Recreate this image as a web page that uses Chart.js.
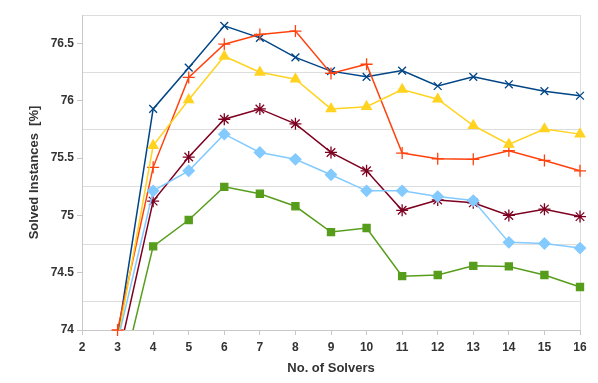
<!DOCTYPE html>
<html lang="en">
<head>
    <meta charset="UTF-8">
    <title>Solved Instances</title>
    <style>
        html, body { margin: 0; padding: 0; background: #fff; }
        #wrap { width: 598px; height: 383px; }
    </style>
</head>
<body>
    <div id="wrap"><canvas id="myChart" width="598" height="383"></canvas></div>

    <script src="https://cdn.jsdelivr.net/npm/chart.js@4.4.0/dist/chart.umd.min.js"></script>
    <script>
        // x values (number of solvers)
        var solvers = [3, 4, 5, 6, 7, 8, 9, 10, 11, 12, 13, 14, 15, 16];

        // one array per line
        var blueSeries   = [73.94, 75.93, 76.29, 76.655, 76.55, 76.38, 76.26, 76.21, 76.265, 76.13, 76.21, 76.145, 76.085, 76.045];
        var orangeSeries = [74.0, 75.42, 76.205, 76.495, 76.58, 76.61, 76.24, 76.32, 75.545, 75.495, 75.49, 75.565, 75.48, 75.39];
        var yellowSeries = [73.9, 75.61, 76.01, 76.39, 76.25, 76.19, 75.93, 75.95, 76.1, 76.015, 75.785, 75.62, 75.755, 75.71];
        var redSeries    = [73.73, 75.125, 75.51, 75.84, 75.93, 75.8, 75.55, 75.39, 75.045, 75.135, 75.11, 75.0, 75.055, 74.99];
        var lightSeries  = [73.9, 75.215, 75.39, 75.71, 75.55, 75.49, 75.355, 75.215, 75.215, 75.165, 75.13, 74.765, 74.755, 74.715];
        var greenSeries  = [73.44, 74.73, 74.96, 75.25, 75.19, 75.08, 74.855, 74.89, 74.47, 74.48, 74.56, 74.555, 74.48, 74.375];

        // y labels every 0.5, grid lines on the quarters in between
        var yMin = 74, yMax = 76.75, yStep = 0.25;

        function points(values) {
            return solvers.map(function (s, i) { return { x: s, y: values[i] }; });
        }

        // markers may spill over the right edge, but nothing below the x axis
        function line(values, color, style, radius, bottomClip) {
            return {
                data: points(values),
                borderColor: color,
                backgroundColor: color,
                borderWidth: 1.5,
                pointStyle: style,
                pointRadius: radius,
                pointBorderColor: color,
                pointBackgroundColor: color,
                pointBorderWidth: 1.3,
                tension: 0,
                clip: { left: 10, top: 10, right: 10, bottom: bottomClip || 0 }
            };
        }

        var textColor = '#333';
        var gridColor = '#dddddd';
        var axisFont = { family: 'Liberation Sans, Arial, sans-serif', size: 12, weight: 'bold' };
        var titleFont = { family: 'Liberation Sans, Arial, sans-serif', size: 13, weight: 'bold' };

        var ctx = document.getElementById('myChart').getContext('2d');
        new Chart(ctx, {
            type: 'line',
            data: {
                datasets: [
                    line(greenSeries, '#579d1c', 'rect', 5),
                    line(lightSeries, '#83caff', 'rectRot', 5.5),
                    line(redSeries, '#7e0021', 'star', 6),
                    line(yellowSeries, '#ffd320', 'triangle', 5.5),
                    line(orangeSeries, '#ff420e', 'cross', 6, 7),
                    line(blueSeries, '#004586', 'crossRot', 5.5)
                ]
            },
            options: {
                responsive: false,
                animation: false,
                layout: { padding: { left: 0, top: 15, right: 18, bottom: 0 } },
                plugins: {
                    legend: { display: false },
                    tooltip: { enabled: false }
                },
                scales: {
                    x: {
                        type: 'linear',
                        min: 2,
                        max: 16,
                        ticks: { stepSize: 1, color: textColor, font: axisFont, padding: 5 },
                        grid: {
                            color: function (c) { return c.tick && c.tick.value === 16 ? gridColor : 'transparent'; },
                            tickColor: '#c8c8c8',
                            tickLength: 5
                        },
                        border: { color: '#c8c8c8' },
                        title: {
                            display: true,
                            text: 'No. of Solvers',
                            color: textColor,
                            font: titleFont,
                            padding: { top: 0, bottom: 7 }
                        },
                        afterFit: function (scale) { scale.height = 53; }
                    },
                    y: {
                        min: yMin,
                        max: yMax,
                        ticks: {
                            stepSize: yStep,
                            color: textColor,
                            font: axisFont,
                            padding: 3,
                            callback: function (v) { return v % 0.5 === 0 ? String(v) : ''; }
                        },
                        grid: {
                            color: function (c) { return c.tick && c.tick.value % 0.5 !== 0 ? gridColor : 'transparent'; },
                            tickColor: function (c) { return c.tick && c.tick.value % 0.5 === 0 ? '#c8c8c8' : 'transparent'; },
                            tickLength: 5
                        },
                        border: { color: '#c8c8c8' },
                        title: {
                            display: true,
                            text: 'Solved Instances  [%]',
                            color: textColor,
                            font: titleFont,
                            padding: { top: 27, bottom: 0 }
                        },
                        afterFit: function (scale) { scale.width = 82; }
                    }
                }
            }
        });
    </script>
</body>
</html>
